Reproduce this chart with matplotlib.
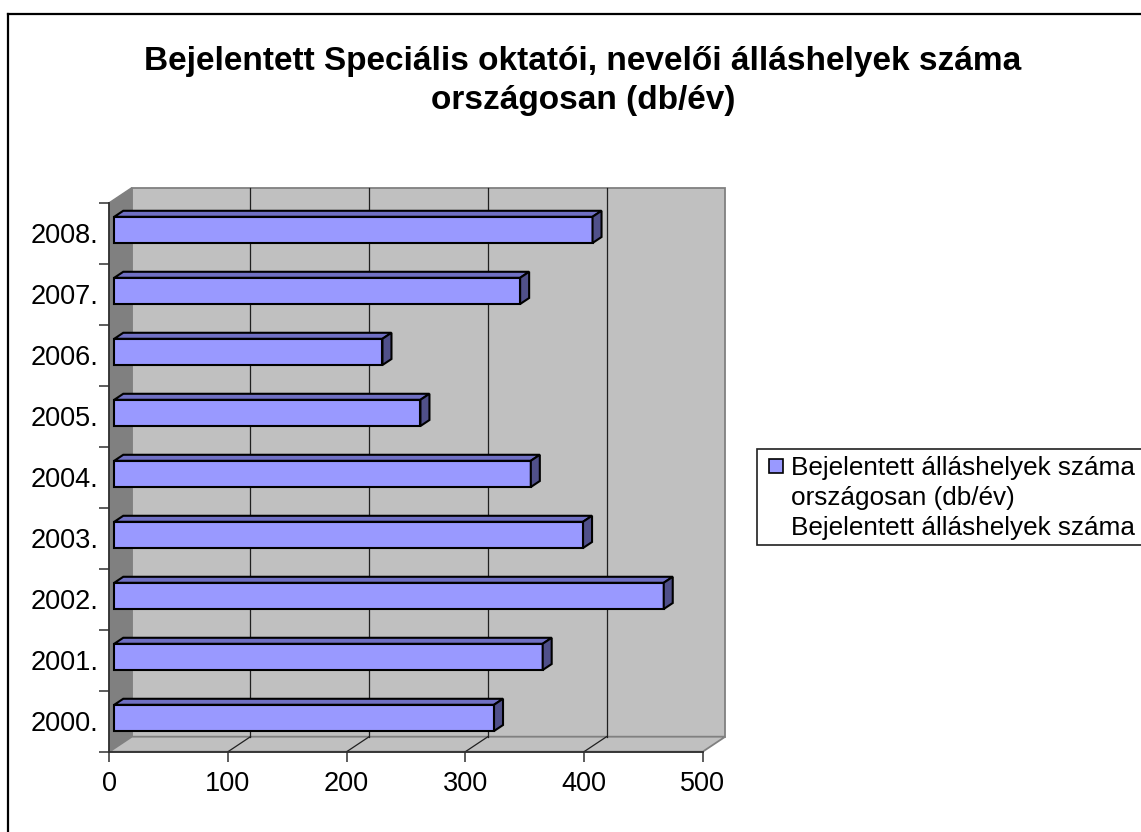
import numpy as np
import matplotlib
matplotlib.use('Agg')
import matplotlib.pyplot as plt
from matplotlib.patches import Polygon, Rectangle
from matplotlib.lines import Line2D

years = ['2000.', '2001.', '2002.', '2003.', '2004.', '2005.', '2006.', '2007.', '2008.']
values = [320, 361, 463, 395, 351, 258, 226, 342, 403]
x_ticks = [0, 100, 200, 300, 400, 500]
title = 'Bejelentett Speciális oktatói, nevelői álláshelyek száma\nországosan (db/év)'
legend_text = 'Bejelentett álláshelyek száma\nországosan (db/év)\nBejelentett álláshelyek száma'

plt.rcParams['font.family'] = ['Liberation Sans', 'DejaVu Sans']

W, H = 1141, 832
fig = plt.figure(figsize=(W / 100, H / 100), dpi=100)

# axes placed so that the front floor edge / left wall edge match the reference
px_l, px_r, px_b, px_t = 109.3, 702.7, 751.7, 202.7
ax = fig.add_axes([px_l / W, 1 - px_b / H, (px_r - px_l) / W, (px_b - px_t) / H])
ax.set_xlim(0, 500)
ax.set_ylim(0, len(years))

# 3d depth offset in data units
DX = 22.5 / ((px_r - px_l) / 500)
DY = 15.0 / ((px_b - px_t) / len(years))
n = len(years)
xmax = 500

wall = '#C0C0C0'
side_wall = '#808080'
edge = '#808080'

# back wall, left wall, floor
ax.add_patch(Polygon([(DX, DY), (xmax + DX, DY), (xmax + DX, n + DY), (DX, n + DY)],
                     closed=True, fc=wall, ec=edge, lw=1.3, clip_on=False, zorder=0))
ax.add_patch(Polygon([(0, 0), (DX, DY), (DX, n + DY), (0, n)],
                     closed=True, fc=side_wall, ec=edge, lw=1.0, clip_on=False, zorder=0))
ax.add_patch(Polygon([(0, 0), (xmax, 0), (xmax + DX, DY), (DX, DY)],
                     closed=True, fc=wall, ec=edge, lw=1.3, clip_on=False, zorder=0))

# gridlines on back wall and floor
for t in x_ticks[1:-1]:
    ax.plot([t + DX, t + DX], [DY, n + DY], color='#202020', lw=0.9, clip_on=False, zorder=1)
    ax.plot([t, t + DX], [0, DY], color='#202020', lw=0.9, clip_on=False, zorder=1)

# bars
f0, f1 = 0.22, 0.62
h = 0.43
ypos = np.arange(n) + 0.5
front = '#9999FF'
top = '#7070C4'
side = '#50508A'
ax.barh(ypos + f0 * DY, values, height=h, left=f0 * DX, color=front,
        edgecolor='black', linewidth=1.5, zorder=3)
for y, v in zip(ypos, values):
    yb, yt = y - h / 2, y + h / 2
    ax.add_patch(Polygon([(f0 * DX, yt + f0 * DY), (v + f0 * DX, yt + f0 * DY),
                          (v + f1 * DX, yt + f1 * DY), (f1 * DX, yt + f1 * DY)],
                         closed=True, fc=top, ec='black', lw=1.5, zorder=3))
    ax.add_patch(Polygon([(v + f0 * DX, yb + f0 * DY), (v + f1 * DX, yb + f1 * DY),
                          (v + f1 * DX, yt + f1 * DY), (v + f0 * DX, yt + f0 * DY)],
                         closed=True, fc=side, ec='black', lw=1.5, zorder=3))

# axes styling
ax.patch.set_visible(False)
for s in ['top', 'right']:
    ax.spines[s].set_visible(False)
for s in ['left', 'bottom']:
    ax.spines[s].set_color('#303030')
    ax.spines[s].set_linewidth(1.3)
    ax.spines[s].set_zorder(2)

ax.set_xticks(x_ticks)
ax.set_xticklabels([str(t) for t in x_ticks], fontsize=19.5)
ax.tick_params(axis='x', direction='out', length=7, width=1.1, color='#303030', pad=7)
ax.set_yticks(np.arange(n + 1))
ax.set_yticklabels([])
ax.set_yticks(ypos, minor=True)
ax.set_yticklabels(years, minor=True, fontsize=19.5)
ax.tick_params(axis='y', which='major', direction='out', length=7, width=1.1, color='#303030')
ax.tick_params(axis='y', which='minor', length=0, pad=8)

# title
fig.text(583 / W, 1 - 81 / H, title, ha='center', va='center', fontsize=24,
         fontweight='bold', linespacing=1.3)

# legend box
fig.add_artist(Rectangle((757 / W, 1 - 545 / H), (W - 757 + 5) / W, 96 / H,
                         transform=fig.transFigure, fc='white', ec='#202020', lw=1.2))
fig.add_artist(Rectangle((769 / W, 1 - 473 / H), 14 / W, 14 / H,
                         transform=fig.transFigure, fc=front, ec='black', lw=1.2))
fig.text(791 / W, 1 - 498 / H, legend_text, ha='left', va='center', fontsize=18.8,
         linespacing=1.3)

# chart area border
fig.add_artist(Line2D([8 / W, 8 / W], [0, 1 - 14 / H], transform=fig.transFigure,
                      color='black', lw=1.6))
fig.add_artist(Line2D([8 / W, 1], [1 - 14 / H, 1 - 14 / H], transform=fig.transFigure,
                      color='black', lw=1.6))

fig.savefig('out.png', dpi=100)
